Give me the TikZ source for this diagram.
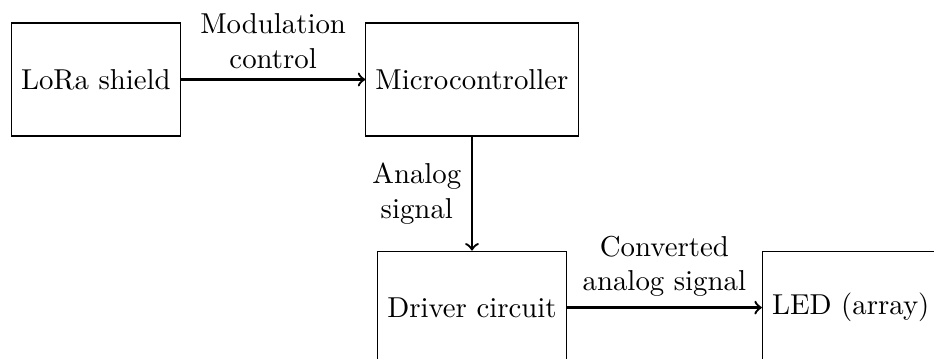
\documentclass[tikz,border=0pt]{standalone}
\usepackage{tikz}
\usetikzlibrary{positioning}
\tikzset{
  blockbox/.style={
    draw=black,
    align=center,
    minimum height=39.2pt,
    inner sep=3.33pt
  },
  flowarrow/.style={
    ->,
    thick
  },
  flowlabel/.style={
    align=center
  }
}

\begin{document}
\begin{tikzpicture}
  \useasboundingbox (-33.3pt,-96.7pt) rectangle (291pt,27.6pt);
  \node[blockbox] (lora) at (0,0) {LoRa shield};
  \node[blockbox, right=64pt of lora] (micro) {Microcontroller};
  \node[blockbox, below=39.6pt of micro] (driver) {Driver circuit};
  \node[blockbox, right=67.7pt of driver] (led) {LED (array)};
  \draw[flowarrow] (lora) -- node[above, flowlabel]{Modulation\\control} (micro);
  \draw[flowarrow] (micro) -- node[left, flowlabel]{Analog\\signal} (driver);
  \draw[flowarrow] (driver) -- node[above, flowlabel]{Converted\\analog signal} (led);
\end{tikzpicture}
\end{document}
